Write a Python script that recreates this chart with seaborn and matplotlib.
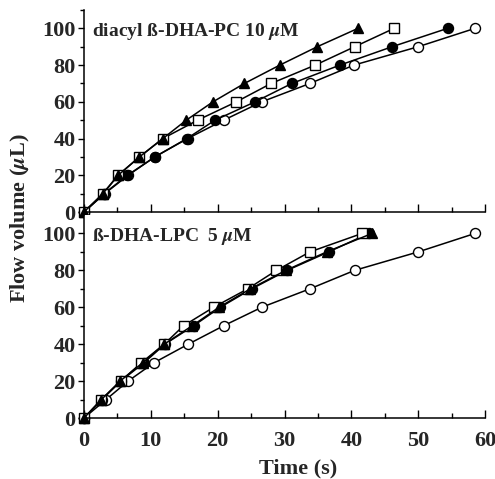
import matplotlib
matplotlib.use("Agg")
import matplotlib.pyplot as plt
import pandas as pd
import seaborn as sns
from matplotlib.ticker import MultipleLocator

volume = [0, 10, 20, 30, 40, 50, 60, 70, 80, 90, 100]

# top panel: diacyl ss-DHA-PC 10 uM
top_triangle = [0, 2.8, 5.1, 8.3, 11.8, 15.3, 19.3, 24.0, 29.3, 34.9, 41.0]
top_square = [0, 2.9, 5.1, 8.3, 11.8, 17.0, 22.8, 28.0, 34.6, 40.5, 46.4]
top_filled = [0, 3.0, 6.5, 10.6, 15.4, 19.6, 25.6, 31.1, 38.3, 46.1, 54.4]
top_open = [0, 3.1, 6.6, 10.6, 15.5, 20.9, 26.6, 33.8, 40.4, 50.0, 58.5]

# bottom panel: ss-DHA-LPC 5 uM
bottom_triangle = [0, 2.6, 5.4, 8.8, 12.0, 16.2, 20.2, 24.9, 30.2, 36.3, 43.1]
bottom_square = [0, 2.6, 5.5, 8.6, 12.0, 14.9, 19.4, 24.5, 28.8, 33.8, 41.6]
bottom_filled = [0, 2.7, 5.5, 9.0, 12.1, 16.4, 20.4, 25.1, 30.4, 36.6, 42.6]
bottom_open = [0, 3.3, 6.6, 10.5, 15.6, 20.9, 26.6, 33.8, 40.5, 50.0, 58.5]

panel_labels = ["diacyl ß-DHA-PC 10 $\\mu$M", "ß-DHA-LPC  5 $\\mu$M"]

marker_styles = {
    "open": {"marker": "o", "markerfacecolor": "white", "markersize": 7.2},
    "filled": {"marker": "o", "markerfacecolor": "black", "markersize": 7.2},
    "square": {"marker": "s", "markerfacecolor": "white", "markersize": 7},
    "triangle": {"marker": "^", "markerfacecolor": "black", "markersize": 7},
}

sns.set_theme(style="ticks")
plt.rcParams["font.family"] = ["Liberation Serif", "DejaVu Serif"]
plt.rcParams["font.weight"] = "bold"
plt.rcParams["mathtext.fontset"] = "stix"


def draw_panel(ax, series, label):
    """Draws one panel of flow curves"""
    for name, times in series.items():
        df = pd.DataFrame({"time": times, "volume": volume})
        sns.lineplot(
            data=df,
            x="time",
            y="volume",
            ax=ax,
            color="black",
            linewidth=1.1,
            markeredgecolor="black",
            markeredgewidth=1.0,
            sort=False,
            estimator=None,
            clip_on=False,
            **marker_styles[name],
        )

    ax.set_xlim(0, 60)
    ax.set_ylim(0, 110)
    ax.xaxis.set_major_locator(MultipleLocator(10))
    ax.xaxis.set_minor_locator(MultipleLocator(5))
    ax.yaxis.set_major_locator(MultipleLocator(20))
    ax.yaxis.set_minor_locator(MultipleLocator(10))
    ax.set_yticks([0, 20, 40, 60, 80, 100])
    ax.tick_params(axis="x", which="major", direction="in", length=6, width=1, pad=9,
                   labelsize=16, color="black")
    ax.tick_params(axis="x", which="minor", direction="in", length=3.5, width=1, color="black")
    ax.tick_params(axis="y", which="major", direction="out", length=4, width=1, pad=2,
                   labelsize=16, color="black")
    ax.tick_params(axis="y", which="minor", direction="out", length=3, width=1, color="black")
    for side in ["left", "bottom"]:
        ax.spines[side].set_linewidth(1.1)
        ax.spines[side].set_color("black")
    sns.despine(ax=ax)
    ax.set_xlabel("")
    ax.set_ylabel("")
    ax.text(1.2, 96, label, fontsize=14, fontweight="bold", ha="left", va="baseline")


fig = plt.figure(figsize=(4.95, 4.79), dpi=100)
ax_top = fig.add_axes([84 / 495, 267 / 479, 401 / 495, 202 / 479])
ax_bottom = fig.add_axes([84 / 495, 61 / 479, 401 / 495, 203 / 479])

draw_panel(
    ax_top,
    {"open": top_open, "filled": top_filled, "square": top_square, "triangle": top_triangle},
    panel_labels[0],
)
draw_panel(
    ax_bottom,
    {"open": bottom_open, "filled": bottom_filled, "square": bottom_square,
     "triangle": bottom_triangle},
    panel_labels[1],
)
for lbl in ax_top.get_yticklabels() + ax_bottom.get_yticklabels():
    lbl.set_fontweight("bold")
ax_top.tick_params(axis="x", labelbottom=False)

ax_bottom.set_xlabel("Time (s)", fontsize=16, fontweight="bold", labelpad=2)
ax_bottom.xaxis.set_label_coords((298 - 84) / 401, -0.2)
fig.text(20 / 495, 1 - 218 / 479, "Flow volume ($\\mu$L)", rotation=90, fontsize=16,
         fontweight="bold", ha="center", va="center")

fig.savefig("out.png", dpi=100)
